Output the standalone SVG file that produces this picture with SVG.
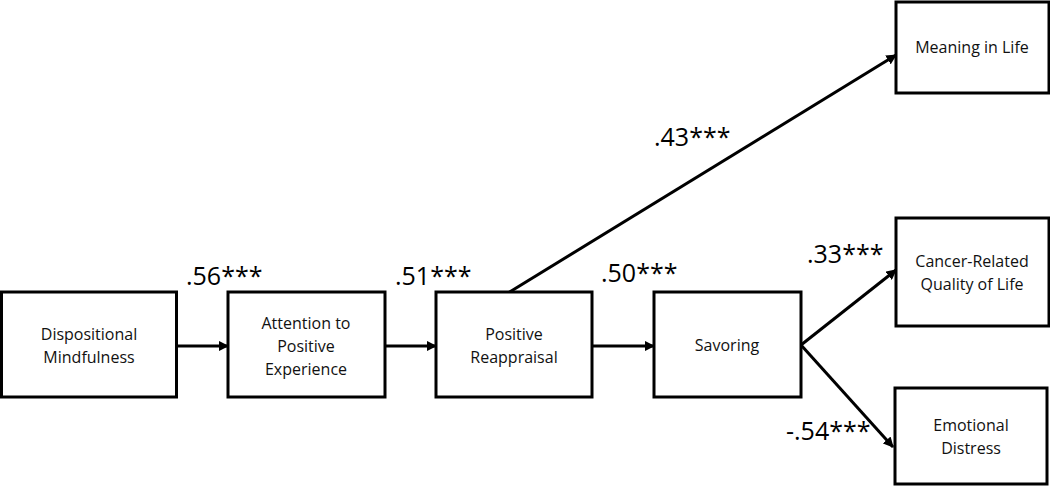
<svg xmlns="http://www.w3.org/2000/svg" width="1050" height="486" viewBox="0 0 1050 486">
<style>
.box{fill:#fff;stroke:#000;stroke-width:3}
.t{font-family:"Open Sans","Liberation Sans",sans-serif;font-size:16px;text-anchor:middle;fill:#111}
.l{font-family:"Open Sans","Liberation Sans",sans-serif;font-size:25px;fill:#000}
.c{stroke:#000;stroke-width:3;fill:none;marker-end:url(#ah)}
</style>
<defs>
<marker id="ah" viewBox="0 0 10 10" refX="9" refY="5" markerWidth="3.5" markerHeight="3.5" orient="auto" markerUnits="strokeWidth">
<path d="M0,0 L10,5 L0,10 z" fill="#000"/>
</marker>
</defs>
<rect width="1050" height="486" fill="#fff"/>
<g id="connectors">
<line class="c" x1="176" y1="346" x2="228" y2="346"/>
<line class="c" x1="385" y1="346" x2="436" y2="346"/>
<line class="c" x1="592" y1="346" x2="654" y2="346"/>
<line class="c" x1="508" y1="293" x2="896" y2="55"/>
<line class="c" x1="801" y1="345" x2="896" y2="270"/>
<line class="c" x1="801" y1="345" x2="893" y2="447"/>
</g>
<g id="labels">
<text class="l" x="186" y="285">.56***</text>
<text class="l" x="395" y="285">.51***</text>
<text class="l" x="601" y="282">.50***</text>
<text class="l" x="654" y="146">.43***</text>
<text class="l" x="807" y="263">.33***</text>
<text class="l" x="786" y="440">-.54***</text>
</g>
<g id="n1"><rect class="box" x="1.5" y="292" width="175" height="105"/><text class="t" x="89" y="340">Dispositional</text><text class="t" x="89" y="363">Mindfulness</text></g>
<g id="n2"><rect class="box" x="228" y="292" width="157" height="105"/><text class="t" x="306" y="329">Attention to</text><text class="t" x="306" y="352">Positive</text><text class="t" x="306" y="375">Experience</text></g>
<g id="n3"><rect class="box" x="436" y="292" width="156" height="105"/><text class="t" x="514" y="340">Positive</text><text class="t" x="514" y="363">Reappraisal</text></g>
<g id="n4"><rect class="box" x="654" y="292" width="147" height="105"/><text class="t" x="727" y="351">Savoring</text></g>
<g id="n5"><rect class="box" x="896" y="2" width="153" height="91"/><text class="t" x="972" y="53">Meaning in Life</text></g>
<g id="n6"><rect class="box" x="896" y="218" width="153" height="108"/><text class="t" x="972" y="267">Cancer-Related</text><text class="t" x="972" y="290">Quality of Life</text></g>
<g id="n7"><rect class="box" x="895" y="388" width="152" height="96"/><text class="t" x="971" y="431">Emotional</text><text class="t" x="971" y="454">Distress</text></g>
</svg>
